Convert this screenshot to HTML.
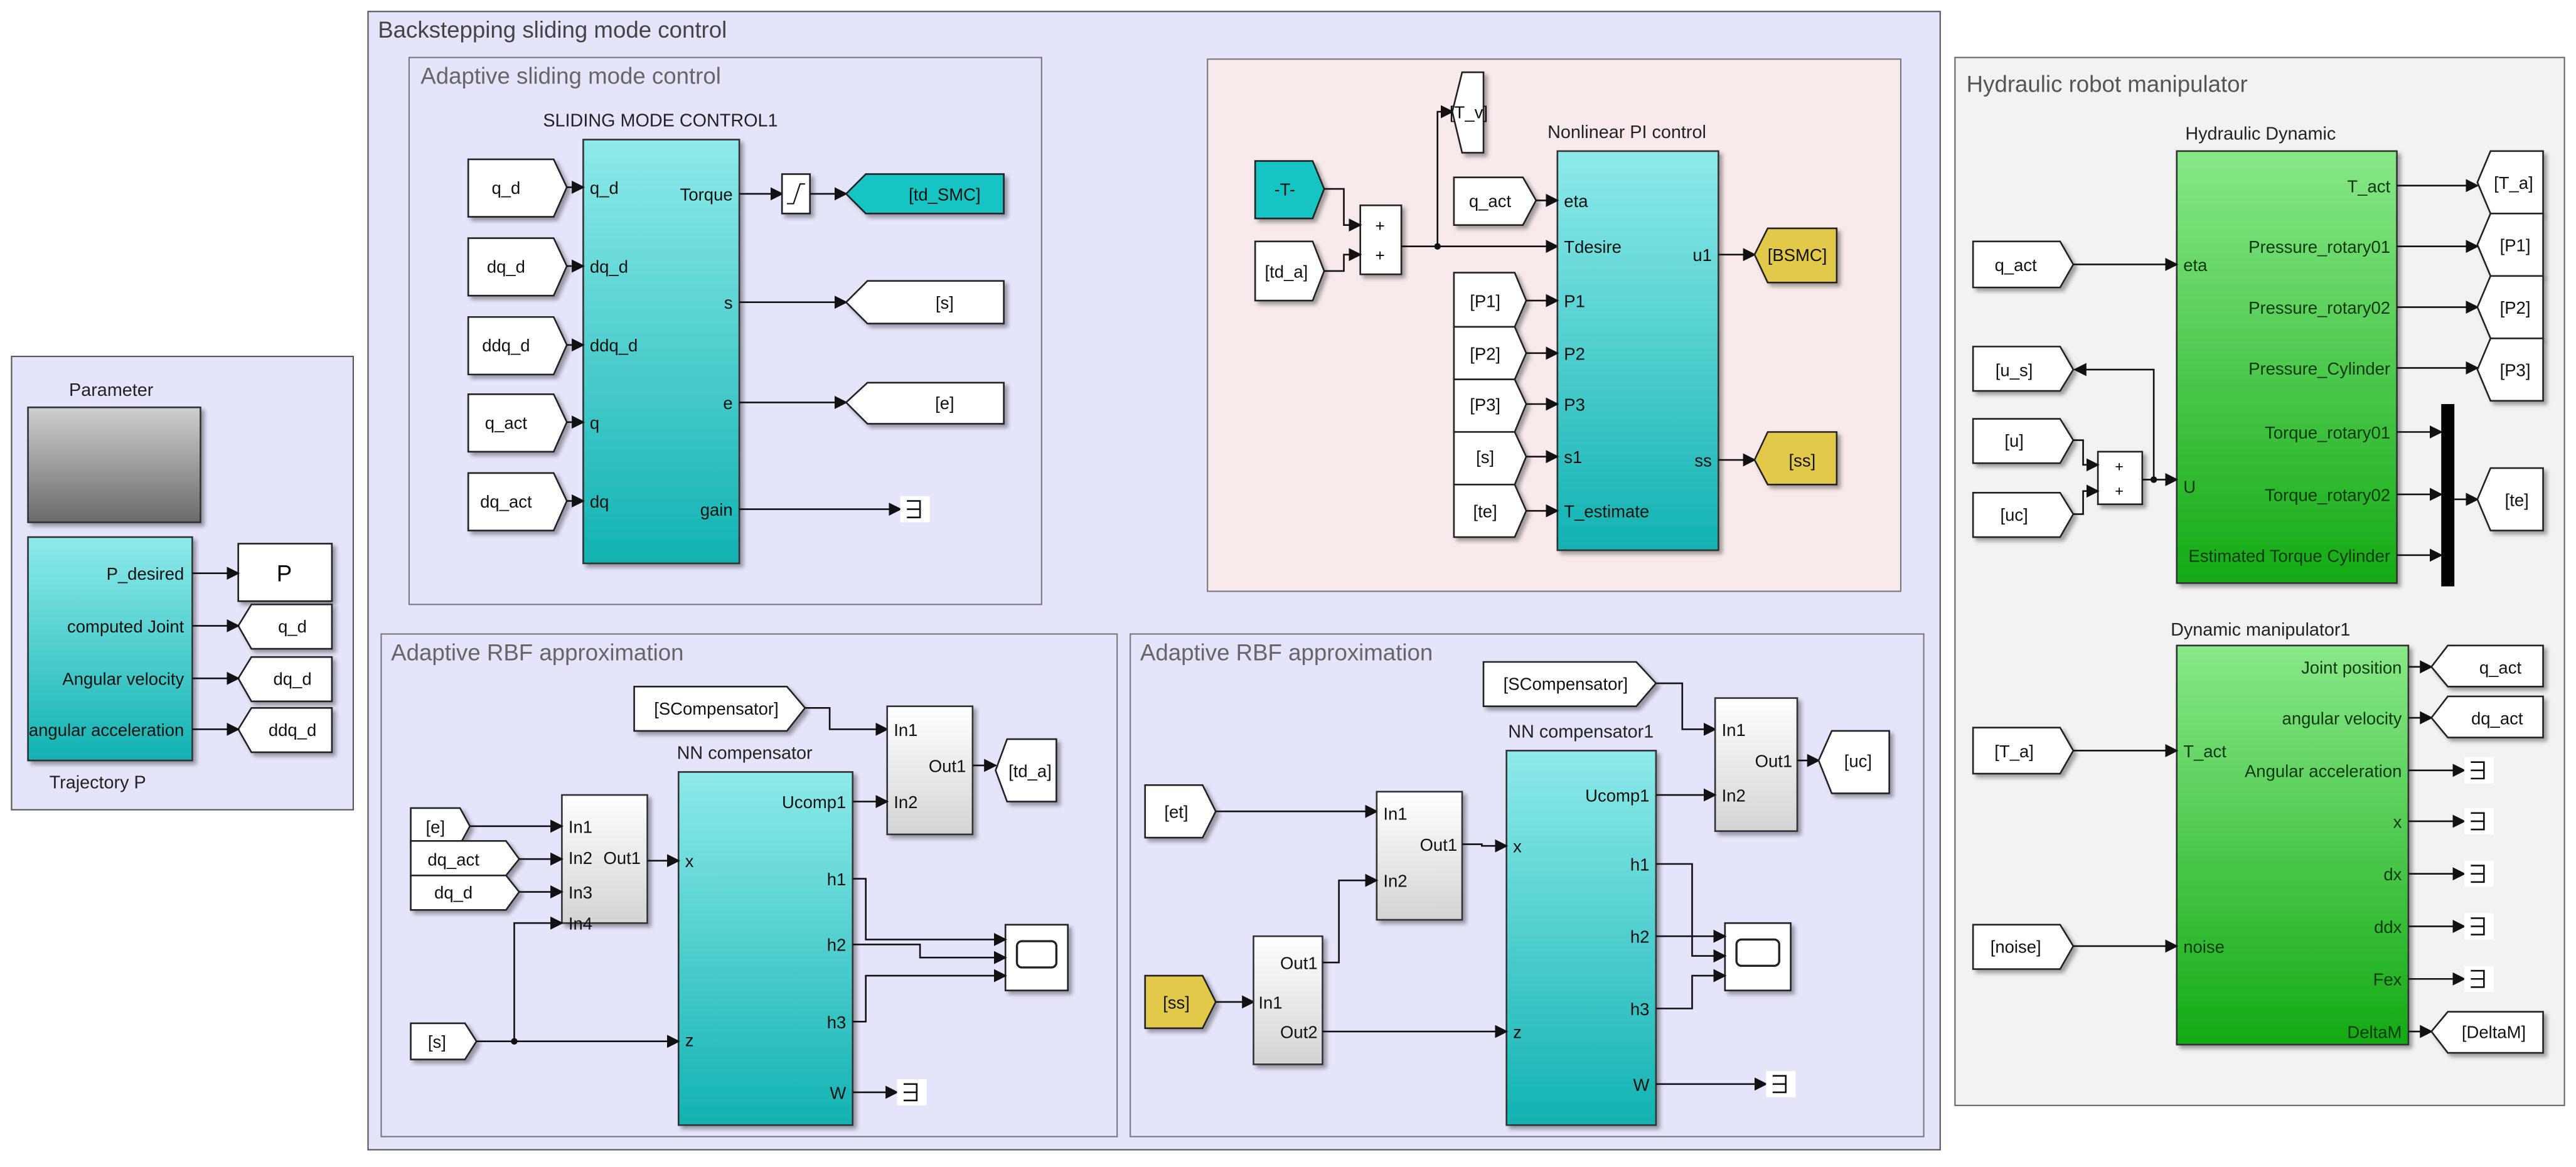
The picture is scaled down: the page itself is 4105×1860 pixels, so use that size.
<!DOCTYPE html>
<html><head><meta charset="utf-8"><style>
html,body{margin:0;padding:0;background:#fff;}
svg{display:block;}
text{font-family:"Liberation Sans",sans-serif;}
.pl{font-size:10.5px;fill:#111;}
.gl{font-size:10.5px;fill:#0a3a0a;}
.tt{font-size:14px;fill:#666;}
.bt{font-size:11px;fill:#222;}
.tag{fill:#fff;stroke:#222;stroke-width:1;filter:url(#sh);}
.ln{fill:none;stroke:#111;stroke-width:1;marker-end:url(#ar);}
.ln0{fill:none;stroke:#111;stroke-width:1;}
</style></head><body>
<svg width="4105" height="1860" viewBox="0 0 1568 710.5" xmlns="http://www.w3.org/2000/svg">
<defs>
<marker id="ar" markerUnits="userSpaceOnUse" markerWidth="8" markerHeight="8" refX="7" refY="4" orient="auto"><path d="M0,0 L8,4 L0,8 z" fill="#111"/></marker>
<filter id="sh" x="-20%" y="-20%" width="150%" height="150%"><feDropShadow dx="2" dy="2" stdDeviation="1.2" flood-color="#000" flood-opacity="0.35"/></filter>
<linearGradient id="cy" x1="0" y1="0" x2="0" y2="1"><stop offset="0" stop-color="#8eeaea"/><stop offset="1" stop-color="#12b2b2"/></linearGradient>
<linearGradient id="gr" x1="0" y1="0" x2="0" y2="1"><stop offset="0" stop-color="#88e888"/><stop offset="1" stop-color="#14aa14"/></linearGradient>
<linearGradient id="gy" x1="0" y1="0" x2="0" y2="1"><stop offset="0" stop-color="#cfcfcf"/><stop offset="1" stop-color="#6a6a6a"/></linearGradient>
<linearGradient id="sb" x1="0" y1="0" x2="0" y2="1"><stop offset="0" stop-color="#ffffff"/><stop offset="1" stop-color="#d4d4d4"/></linearGradient>
<g id="term"><rect x="0" y="-8" width="18" height="16" fill="#fff"/><path d="M4,-5 H12 V5 H4 M4,0 H12" fill="none" stroke="#111" stroke-width="1"/></g>
</defs>

<!-- Parameter panel -->
<rect x="7" y="217" width="208" height="276" fill="#e4e4fa" stroke="#555" stroke-width="0.8"/>
<text x="42" y="241" class="bt" font-size="11.5">Parameter</text>
<rect x="17" y="248" width="105" height="70" fill="url(#gy)" stroke="#333" filter="url(#sh)"/>
<rect x="17" y="327" width="100" height="136" fill="url(#cy)" stroke="#333" filter="url(#sh)"/>
<text x="112" y="353" class="pl" text-anchor="end">P_desired</text>
<text x="112" y="385" class="pl" text-anchor="end">computed Joint</text>
<text x="112" y="417" class="pl" text-anchor="end">Angular velocity</text>
<text x="112" y="448" class="pl" text-anchor="end">angular acceleration</text>
<text x="30" y="480" class="bt">Trajectory P</text>
<rect x="145" y="331" width="57" height="35" fill="#fff" stroke="#222" filter="url(#sh)"/>
<text x="173" y="354" font-size="14" text-anchor="middle">P</text>
<polygon class="tag" points="145,381 153,368 202,368 202,395 153,395"/><text x="178" y="385" class="pl" text-anchor="middle">q_d</text>
<polygon class="tag" points="145,413 153,400 202,400 202,427 153,427"/><text x="178" y="417" class="pl" text-anchor="middle">dq_d</text>
<polygon class="tag" points="145,444 153,431 202,431 202,458 153,458"/><text x="178" y="448" class="pl" text-anchor="middle">ddq_d</text>
<path class="ln" d="M117,349 H145"/><path class="ln" d="M117,381 H145"/><path class="ln" d="M117,413 H145"/><path class="ln" d="M117,444 H145"/>

<!-- Backstepping panel -->
<rect x="224" y="7" width="957" height="693" fill="#e4e4fa" stroke="#555" stroke-width="0.8"/>
<text x="230" y="23" class="tt" fill="#444" style="fill:#444">Backstepping sliding mode control</text>

<!-- Adaptive SMC -->
<rect x="249" y="35" width="385" height="333" fill="#e4e4fa" stroke="#777" stroke-width="0.8"/>
<text x="256" y="51" class="tt">Adaptive sliding mode control</text>
<text x="402" y="77" class="bt" text-anchor="middle">SLIDING MODE CONTROL1</text>
<rect x="355" y="85" width="95" height="258" fill="url(#cy)" stroke="#333" filter="url(#sh)"/>
<polygon class="tag" points="285,97 337,97 345,114 337,132 285,132"/><text x="308" y="118" class="pl" text-anchor="middle">q_d</text>
<polygon class="tag" points="285,145 337,145 345,162 337,180 285,180"/><text x="308" y="166" class="pl" text-anchor="middle">dq_d</text>
<polygon class="tag" points="285,193 337,193 345,210 337,228 285,228"/><text x="308" y="214" class="pl" text-anchor="middle">ddq_d</text>
<polygon class="tag" points="285,240 337,240 345,257 337,275 285,275"/><text x="308" y="261" class="pl" text-anchor="middle">q_act</text>
<polygon class="tag" points="285,288 337,288 345,305 337,323 285,323"/><text x="308" y="309" class="pl" text-anchor="middle">dq_act</text>
<path class="ln" d="M345,114 H355"/><path class="ln" d="M345,162 H355"/><path class="ln" d="M345,210 H355"/><path class="ln" d="M345,257 H355"/><path class="ln" d="M345,305 H355"/>
<text x="359" y="118" class="pl" fill="#0a3030">q_d</text>
<text x="359" y="166" class="pl">dq_d</text>
<text x="359" y="214" class="pl">ddq_d</text>
<text x="359" y="261" class="pl">q</text>
<text x="359" y="309" class="pl">dq</text>
<text x="446" y="122" class="pl" text-anchor="end">Torque</text>
<text x="446" y="188" class="pl" text-anchor="end">s</text>
<text x="446" y="249" class="pl" text-anchor="end">e</text>
<text x="446" y="314" class="pl" text-anchor="end">gain</text>
<path class="ln" d="M450,118 H476"/>
<rect x="476" y="106" width="17" height="24" fill="#fff" stroke="#222" filter="url(#sh)"/>
<path d="M479,124 H483 L487,112 H490" fill="none" stroke="#111" stroke-width="0.8"/>
<path class="ln" d="M493,118 H515"/>
<polygon points="515,118 527,106 611,106 611,130 527,130" fill="#17c4c4" stroke="#222" filter="url(#sh)"/><text x="575" y="122" class="pl" text-anchor="middle">[td_SMC]</text>
<path class="ln" d="M450,184 H515"/>
<polygon class="tag" points="515,184 528,171 611,171 611,197 528,197"/><text x="575" y="188" class="pl" text-anchor="middle">[s]</text>
<path class="ln" d="M450,245 H515"/>
<polygon class="tag" points="515,245 528,233 611,233 611,258 528,258"/><text x="575" y="249" class="pl" text-anchor="middle">[e]</text>
<path class="ln" d="M450,310 H548"/><use href="#term" x="548" y="310"/>

<!-- Pink panel -->
<rect x="735" y="36" width="422" height="324" fill="#f8eaea" stroke="#777" stroke-width="0.8"/>
<polygon points="764,98 799,98 806,115 799,133 764,133" fill="#17c4c4" stroke="#222" filter="url(#sh)"/><text x="782" y="119" class="pl" text-anchor="middle">-T-</text>
<polygon class="tag" points="764,147 799,147 806,165 799,183 764,183"/><text x="783" y="169" class="pl" text-anchor="middle">[td_a]</text>
<rect x="828" y="125" width="25" height="42" fill="#fff" stroke="#222" filter="url(#sh)"/>
<text x="840" y="141" font-size="10" text-anchor="middle">+</text><text x="840" y="159" font-size="10" text-anchor="middle">+</text>
<path class="ln" d="M806,115 H818 V137 H828"/><path class="ln" d="M806,165 H818 V155 H828"/>
<path class="ln" d="M853,150 H948"/>
<circle cx="875" cy="150" r="2" fill="#111"/>
<path class="ln" d="M875,150 V68 H884"/>
<polygon class="tag" points="884,68 890,44 903,44 903,93 890,93"/><text x="894" y="72" class="pl" text-anchor="middle">[T_v]</text>
<text x="942" y="84" class="bt">Nonlinear PI control</text>
<rect x="948" y="92" width="98" height="243" fill="url(#cy)" stroke="#333" filter="url(#sh)"/>
<polygon class="tag" points="885,108 927,108 935,122 927,137 885,137"/><text x="907" y="126" class="pl" text-anchor="middle">q_act</text>
<path class="ln" d="M935,122 H948"/>
<polygon class="tag" points="885,166 922,166 929,183 922,199 885,199"/><text x="904" y="187" class="pl" text-anchor="middle">[P1]</text>
<polygon class="tag" points="885,199 922,199 929,215 922,231 885,231"/><text x="904" y="219" class="pl" text-anchor="middle">[P2]</text>
<polygon class="tag" points="885,231 922,231 929,246 922,263 885,263"/><text x="904" y="250" class="pl" text-anchor="middle">[P3]</text>
<polygon class="tag" points="885,263 922,263 929,278 922,295 885,295"/><text x="904" y="282" class="pl" text-anchor="middle">[s]</text>
<polygon class="tag" points="885,295 922,295 929,311 922,327 885,327"/><text x="904" y="315" class="pl" text-anchor="middle">[te]</text>
<path class="ln" d="M929,183 H948"/><path class="ln" d="M929,215 H948"/><path class="ln" d="M929,246 H948"/><path class="ln" d="M929,278 H948"/><path class="ln" d="M929,311 H948"/>
<text x="952" y="126" class="pl">eta</text>
<text x="952" y="154" class="pl">Tdesire</text>
<text x="952" y="187" class="pl">P1</text>
<text x="952" y="219" class="pl">P2</text>
<text x="952" y="250" class="pl">P3</text>
<text x="952" y="282" class="pl">s1</text>
<text x="952" y="315" class="pl">T_estimate</text>
<text x="1042" y="159" class="pl" text-anchor="end">u1</text>
<text x="1042" y="284" class="pl" text-anchor="end">ss</text>
<path class="ln" d="M1046,155 H1068"/>
<polygon points="1068,155 1076,139 1118,139 1118,172 1076,172" fill="#e2c94a" stroke="#222" filter="url(#sh)"/><text x="1094" y="159" class="pl" text-anchor="middle">[BSMC]</text>
<path class="ln" d="M1046,280 H1068"/>
<polygon points="1068,280 1076,263 1118,263 1118,295 1076,295" fill="#e2c94a" stroke="#222" filter="url(#sh)"/><text x="1097" y="284" class="pl" text-anchor="middle">[ss]</text>

<!-- RBF left -->
<rect x="232" y="386" width="448" height="306" fill="#e4e4fa" stroke="#777" stroke-width="0.8"/>
<text x="238" y="402" class="tt">Adaptive RBF approximation</text>
<polygon class="tag" points="386,418 479,418 490,431 479,445 386,445"/><text x="436" y="435" class="pl" text-anchor="middle">[SCompensator]</text>
<path class="ln" d="M490,431 H505 V444 H540"/>
<rect x="540" y="430" width="52" height="78" fill="url(#sb)" stroke="#333" filter="url(#sh)"/>
<text x="544" y="448" class="pl">In1</text><text x="544" y="492" class="pl">In2</text><text x="588" y="470" class="pl" text-anchor="end">Out1</text>
<path class="ln" d="M592,466 H606"/>
<polygon class="tag" points="606,469 613,450 643,450 643,488 613,488"/><text x="627" y="473" class="pl" text-anchor="middle">[td_a]</text>
<text x="412" y="462" class="bt">NN compensator</text>
<rect x="413" y="470" width="106" height="215" fill="url(#cy)" stroke="#333" filter="url(#sh)"/>
<text x="417" y="528" class="pl">x</text><text x="417" y="637" class="pl">z</text>
<text x="515" y="492" class="pl" text-anchor="end">Ucomp1</text>
<text x="515" y="539" class="pl" text-anchor="end">h1</text>
<text x="515" y="579" class="pl" text-anchor="end">h2</text>
<text x="515" y="626" class="pl" text-anchor="end">h3</text>
<text x="515" y="669" class="pl" text-anchor="end">W</text>
<path class="ln" d="M519,488 H540"/>
<rect x="342" y="484" width="52" height="78" fill="url(#sb)" stroke="#333" filter="url(#sh)"/>
<text x="346" y="507" class="pl">In1</text><text x="346" y="526" class="pl">In2</text><text x="346" y="547" class="pl">In3</text><text x="346" y="566" class="pl">In4</text>
<text x="390" y="526" class="pl" text-anchor="end">Out1</text>
<polygon class="tag" points="250,492 280,492 286,503 280,514 250,514"/><text x="265" y="507" class="pl" text-anchor="middle">[e]</text>
<polygon class="tag" points="250,512 308,512 316,523 308,533 250,533"/><text x="276" y="527" class="pl" text-anchor="middle">dq_act</text>
<polygon class="tag" points="250,533 308,533 316,543 308,554 250,554"/><text x="276" y="547" class="pl" text-anchor="middle">dq_d</text>
<path class="ln" d="M286,503 H342"/><path class="ln" d="M316,523 H342"/><path class="ln" d="M316,543 H342"/>
<path class="ln" d="M394,524 H413"/>
<polygon class="tag" points="250,623 283,623 290,634 283,645 250,645"/><text x="266" y="638" class="pl" text-anchor="middle">[s]</text>
<path class="ln" d="M290,634 H413"/><circle cx="313" cy="634" r="2" fill="#111"/>
<path class="ln" d="M313,634 V562 H342"/>
<rect x="612" y="563" width="38" height="40" fill="#fff" stroke="#222" filter="url(#sh)"/>
<rect x="619" y="573" width="24" height="16" rx="3" fill="#fff" stroke="#222" stroke-width="1.3"/>
<path class="ln" d="M519,535 H527 V572 H612"/><path class="ln" d="M519,575 H560 V583 H612"/><path class="ln" d="M519,622 H527 V594 H612"/>
<path class="ln" d="M519,665 H546"/><use href="#term" x="546" y="665"/>

<!-- RBF right -->
<rect x="688" y="386" width="483" height="306" fill="#e4e4fa" stroke="#777" stroke-width="0.8"/>
<text x="694" y="402" class="tt">Adaptive RBF approximation</text>
<polygon class="tag" points="903,403 996,403 1008,416 996,430 903,430"/><text x="953" y="420" class="pl" text-anchor="middle">[SCompensator]</text>
<path class="ln" d="M1008,416 H1024 V444 H1044"/>
<rect x="1044" y="425" width="50" height="81" fill="url(#sb)" stroke="#333" filter="url(#sh)"/>
<text x="1048" y="448" class="pl">In1</text><text x="1048" y="488" class="pl">In2</text><text x="1091" y="467" class="pl" text-anchor="end">Out1</text>
<path class="ln" d="M1094,463 H1107"/>
<polygon class="tag" points="1107,463 1115,445 1150,445 1150,483 1115,483"/><text x="1131" y="467" class="pl" text-anchor="middle">[uc]</text>
<text x="918" y="449" class="bt">NN compensator1</text>
<rect x="917" y="457" width="91" height="228" fill="url(#cy)" stroke="#333" filter="url(#sh)"/>
<text x="921" y="519" class="pl">x</text><text x="921" y="632" class="pl">z</text>
<text x="1004" y="488" class="pl" text-anchor="end">Ucomp1</text>
<text x="1004" y="530" class="pl" text-anchor="end">h1</text>
<text x="1004" y="574" class="pl" text-anchor="end">h2</text>
<text x="1004" y="618" class="pl" text-anchor="end">h3</text>
<text x="1004" y="664" class="pl" text-anchor="end">W</text>
<path class="ln" d="M1008,484 H1044"/>
<polygon class="tag" points="697,478 732,478 740,494 732,510 697,510"/><text x="716" y="498" class="pl" text-anchor="middle">[et]</text>
<path class="ln" d="M740,494 H838"/>
<rect x="838" y="482" width="52" height="78" fill="url(#sb)" stroke="#333" filter="url(#sh)"/>
<text x="842" y="499" class="pl">In1</text><text x="842" y="540" class="pl">In2</text><text x="887" y="518" class="pl" text-anchor="end">Out1</text>
<path class="ln" d="M890,514 H902 V515 H917"/>
<polygon points="697,594 732,594 740,610 732,626 697,626" fill="#e2c94a" stroke="#222" filter="url(#sh)"/><text x="716" y="614" class="pl" text-anchor="middle">[ss]</text>
<path class="ln" d="M740,610 H763"/>
<rect x="763" y="570" width="42" height="78" fill="url(#sb)" stroke="#333" filter="url(#sh)"/>
<text x="802" y="590" class="pl" text-anchor="end">Out1</text><text x="766" y="614" class="pl">In1</text><text x="802" y="632" class="pl" text-anchor="end">Out2</text>
<path class="ln" d="M805,586 H815 V536 H838"/>
<path class="ln" d="M805,628 H917"/>
<rect x="1050" y="562" width="40" height="41" fill="#fff" stroke="#222" filter="url(#sh)"/>
<rect x="1057" y="572" width="26" height="16" rx="3" fill="#fff" stroke="#222" stroke-width="1.3"/>
<path class="ln" d="M1008,526 H1030 V582 H1050"/><path class="ln" d="M1008,570 H1050"/><path class="ln" d="M1008,614 H1030 V594 H1050"/>
<path class="ln" d="M1008,660 H1075"/><use href="#term" x="1075" y="660"/>

<!-- Hydraulic panel -->
<rect x="1190" y="35" width="371" height="638" fill="#f2f2f2" stroke="#666" stroke-width="0.8"/>
<text x="1197" y="56" class="tt" style="fill:#555">Hydraulic robot manipulator</text>
<text x="1376" y="85" class="bt" text-anchor="middle">Hydraulic Dynamic</text>
<rect x="1325" y="92" width="134" height="263" fill="url(#gr)" stroke="#333" filter="url(#sh)"/>
<text x="1329" y="165" class="gl">eta</text><text x="1329" y="300" class="gl">U</text>
<text x="1455" y="117" class="gl" text-anchor="end">T_act</text>
<text x="1455" y="154" class="gl" text-anchor="end">Pressure_rotary01</text>
<text x="1455" y="191" class="gl" text-anchor="end">Pressure_rotary02</text>
<text x="1455" y="228" class="gl" text-anchor="end">Pressure_Cylinder</text>
<text x="1455" y="267" class="gl" text-anchor="end">Torque_rotary01</text>
<text x="1455" y="305" class="gl" text-anchor="end">Torque_rotary02</text>
<text x="1455" y="342" class="gl" text-anchor="end">Estimated Torque Cylinder</text>
<polygon class="tag" points="1201,147 1254,147 1262,161 1254,175 1201,175"/><text x="1227" y="165" class="pl" text-anchor="middle">q_act</text>
<path class="ln" d="M1262,161 H1325"/>
<polygon class="tag" points="1201,211 1254,211 1262,225 1254,238 1201,238"/><text x="1226" y="229" class="pl" text-anchor="middle">[u_s]</text>
<polygon class="tag" points="1201,255 1254,255 1262,268 1254,282 1201,282"/><text x="1226" y="272" class="pl" text-anchor="middle">[u]</text>
<polygon class="tag" points="1201,300 1254,300 1262,313 1254,327 1201,327"/><text x="1226" y="317" class="pl" text-anchor="middle">[uc]</text>
<rect x="1277" y="275" width="27" height="32" fill="#fff" stroke="#222" filter="url(#sh)"/>
<text x="1290" y="287" font-size="9" text-anchor="middle">+</text><text x="1290" y="302" font-size="9" text-anchor="middle">+</text>
<path class="ln" d="M1262,268 H1268 V283 H1277"/><path class="ln" d="M1262,313 H1268 V299 H1277"/>
<path class="ln" d="M1304,292 H1325"/><circle cx="1311" cy="292" r="2" fill="#111"/>
<path class="ln" d="M1311,292 V225 H1263"/>
<path class="ln" d="M1459,113 H1508"/><path class="ln" d="M1459,150 H1508"/><path class="ln" d="M1459,187 H1508"/><path class="ln" d="M1459,224 H1508"/>
<polygon class="tag" points="1508,111 1516,92 1548,92 1548,130 1516,130"/><text x="1530" y="115" class="pl" text-anchor="middle">[T_a]</text>
<polygon class="tag" points="1508,149 1516,130 1548,130 1548,168 1516,168"/><text x="1531" y="153" class="pl" text-anchor="middle">[P1]</text>
<polygon class="tag" points="1508,187 1516,168 1548,168 1548,206 1516,206"/><text x="1531" y="191" class="pl" text-anchor="middle">[P2]</text>
<polygon class="tag" points="1508,225 1516,206 1548,206 1548,244 1516,244"/><text x="1531" y="229" class="pl" text-anchor="middle">[P3]</text>
<path class="ln" d="M1459,263 H1486"/><path class="ln" d="M1459,301 H1486"/><path class="ln" d="M1459,338 H1486"/>
<rect x="1486" y="246" width="8" height="111" fill="#000"/>
<path class="ln" d="M1494,304 H1508"/>
<polygon class="tag" points="1508,304 1516,285 1548,285 1548,323 1516,323"/><text x="1532" y="308" class="pl" text-anchor="middle">[te]</text>

<text x="1376" y="387" class="bt" text-anchor="middle">Dynamic manipulator1</text>
<rect x="1325" y="393" width="141" height="243" fill="url(#gr)" stroke="#333" filter="url(#sh)"/>
<text x="1329" y="461" class="gl">T_act</text><text x="1329" y="580" class="gl">noise</text>
<text x="1462" y="410" class="gl" text-anchor="end">Joint position</text>
<text x="1462" y="441" class="gl" text-anchor="end">angular velocity</text>
<text x="1462" y="473" class="gl" text-anchor="end">Angular acceleration</text>
<text x="1462" y="504" class="gl" text-anchor="end">x</text>
<text x="1462" y="536" class="gl" text-anchor="end">dx</text>
<text x="1462" y="568" class="gl" text-anchor="end">ddx</text>
<text x="1462" y="600" class="gl" text-anchor="end">Fex</text>
<text x="1462" y="632" class="gl" text-anchor="end">DeltaM</text>
<polygon class="tag" points="1201,443 1254,443 1262,457 1254,471 1201,471"/><text x="1226" y="461" class="pl" text-anchor="middle">[T_a]</text>
<path class="ln" d="M1262,457 H1325"/>
<polygon class="tag" points="1201,563 1254,563 1262,576 1254,590 1201,590"/><text x="1227" y="580" class="pl" text-anchor="middle">[noise]</text>
<path class="ln" d="M1262,576 H1325"/>
<path class="ln" d="M1466,406 H1480"/>
<polygon class="tag" points="1480,406 1490,393 1548,393 1548,418 1490,418"/><text x="1522" y="410" class="pl" text-anchor="middle">q_act</text>
<path class="ln" d="M1466,437 H1480"/>
<polygon class="tag" points="1480,437 1490,424 1548,424 1548,449 1490,449"/><text x="1520" y="441" class="pl" text-anchor="middle">dq_act</text>
<path class="ln" d="M1466,469 H1500"/><use href="#term" x="1500" y="469"/>
<path class="ln" d="M1466,500 H1500"/><use href="#term" x="1500" y="500"/>
<path class="ln" d="M1466,532 H1500"/><use href="#term" x="1500" y="532"/>
<path class="ln" d="M1466,564 H1500"/><use href="#term" x="1500" y="564"/>
<path class="ln" d="M1466,596 H1500"/><use href="#term" x="1500" y="596"/>
<path class="ln" d="M1466,628 H1480"/>
<polygon class="tag" points="1480,628 1490,616 1548,616 1548,641 1490,641"/><text x="1518" y="632" class="pl" text-anchor="middle">[DeltaM]</text>
</svg>
</body></html>
